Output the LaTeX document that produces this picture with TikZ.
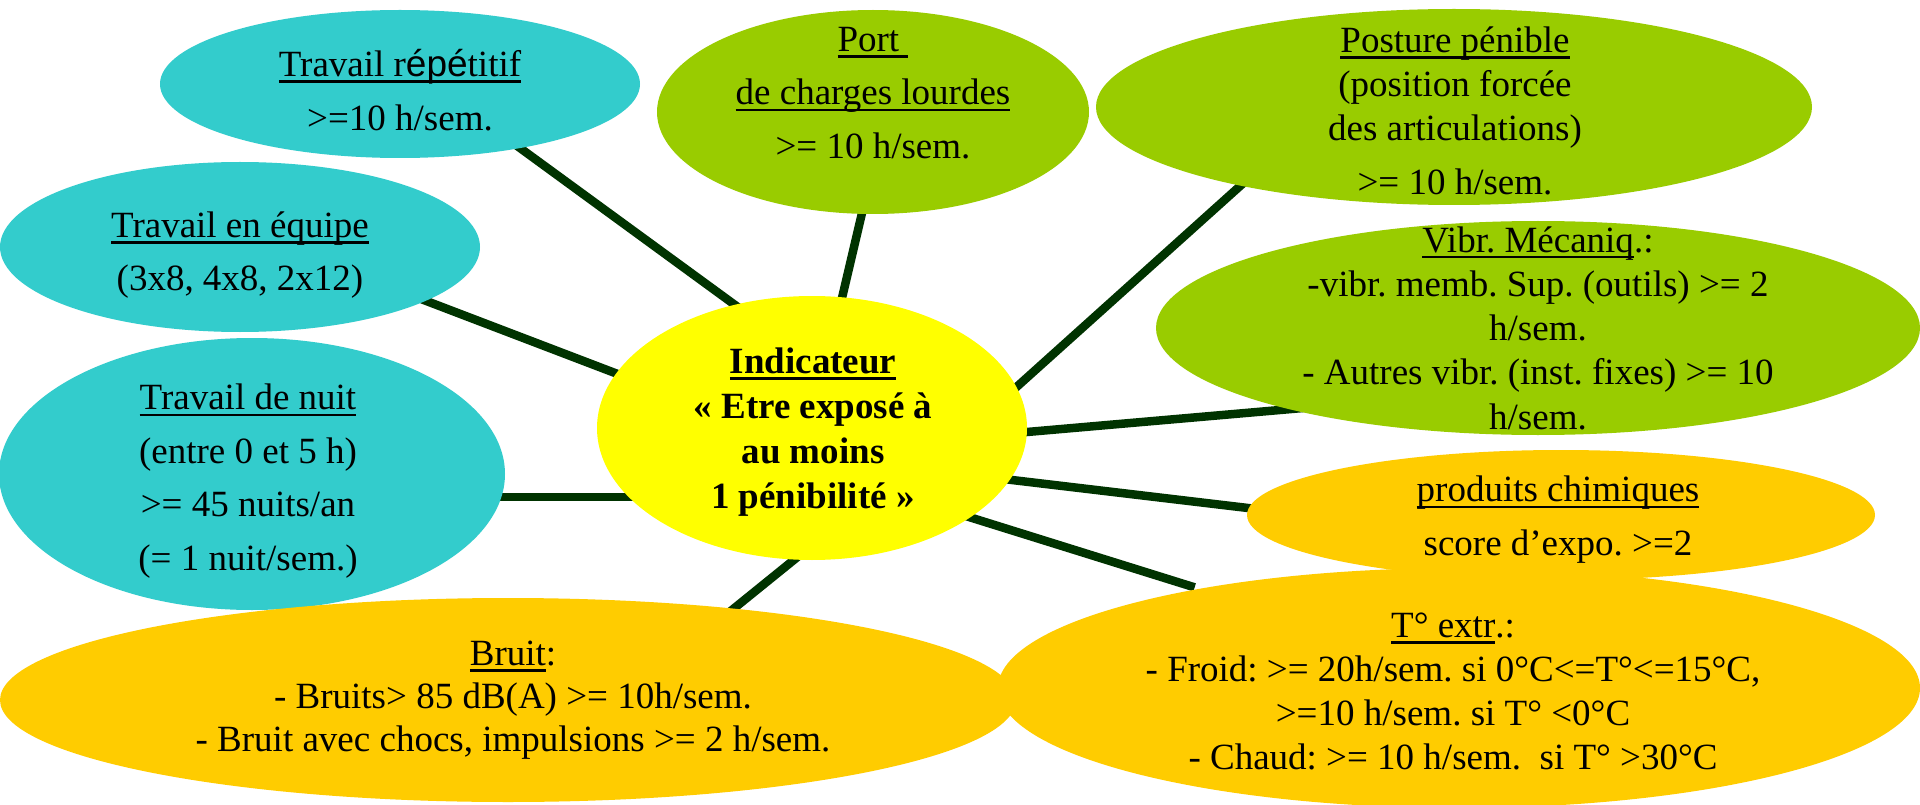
\documentclass[tikz,border=0pt]{standalone}
\usepackage{fontspec}
\setmainfont{Liberation Serif}
\newfontfamily\sansf{Liberation Sans}
\usetikzlibrary{shapes.geometric,backgrounds,calc}
\definecolor{cyanfill}{HTML}{33CCCC}
\definecolor{greenfill}{HTML}{99CC00}
\definecolor{yellowfill}{HTML}{FFFF00}
\definecolor{orangefill}{HTML}{FFCC00}
\definecolor{linkcol}{HTML}{003300}
\newsavebox\myulbox
\newcommand\myul[1]{\sbox\myulbox{#1}\rlap{\rule[-0.175em]{\wd\myulbox}{0.07em}}\usebox\myulbox}
\frenchspacing
\begin{document}
\begin{tikzpicture}[x=1pt,y=-1pt,
  bubble/.style={ellipse, draw=none, inner sep=0pt, outer sep=0pt},
  txt/.style={align=center, inner sep=0pt, font=\fontsize{37}{53.5}\selectfont},
  link/.style={draw=linkcol, line width=8.5pt, shorten <=-8pt, shorten >=-8pt}]
\path[use as bounding box] (0,0) rectangle (1920,805);
% bubbles
\node[bubble, fill=cyanfill, minimum width=480pt, minimum height=148pt] (rep) at (400,84) {};
\node[bubble, fill=greenfill, minimum width=432pt, minimum height=204pt] (port) at (873,112) {};
\node[bubble, fill=cyanfill, minimum width=480pt, minimum height=170pt] (equ) at (240,247) {};
\node[bubble, fill=cyanfill, minimum width=506pt, minimum height=272pt] (nuit) at (252,474) {};
\node[bubble, fill=greenfill, minimum width=716pt, minimum height=196pt] (post) at (1454,107) {};
\node[bubble, fill=greenfill, minimum width=764pt, minimum height=214pt] (vib) at (1538,328) {};
\node[bubble, fill=orangefill, minimum width=628pt, minimum height=130pt] (chim) at (1561,515) {};
\node[bubble, fill=orangefill, minimum width=1016pt, minimum height=204pt] (bruit) at (508,700) {};
\node[bubble, fill=orangefill, minimum width=922pt, minimum height=240pt] (temp) at (1459,688) {};
\node[bubble, fill=yellowfill, minimum width=430pt, minimum height=264pt] (ind) at (812,428) {};
% texts
\node[txt] (rep-t) at (400,90) {\myul{Travail r{\sansf épé}titif}\\>=10 h/sem.};
\node[txt] (port-t) at (873,93) {\myul{Port }\\\myul{de charges lourdes}\\>= 10 h/sem.};
\node[txt] (equ-t) at (240,255) {\myul{Travail en équipe}\\(3x8, 4x8, 2x12)};
\node[txt] (nuit-t) at (248,481) {\myul{Travail de nuit}\\(entre 0 et 5 h)\\>= 45 nuits/an\\(= 1 nuit/sem.)};
\node[txt, font=\fontsize{37}{45}\selectfont\bfseries] (ind-t) at (813,432) {\myul{Indicateur}\\« Etre exposé à\\au moins\\1 pénibilité »};
\node[txt, font=\fontsize{37}{43}\selectfont] (bruit-t) at (513,700) {\myul{Bruit}:\\- Bruits> 85 dB(A) >= 10h/sem.\\- Bruit avec chocs, impulsions >= 2 h/sem.};
\node[txt, font=\fontsize{37}{44}\selectfont] (post-t) at (1455,111) {\myul{Posture pénible}\\(position forcée\\des articulations)\\[10pt]>= 10 h/sem.};
\node[txt, font=\fontsize{37}{44.3}\selectfont] (vib-t) at (1538,328) {\myul{Vibr. Mécaniq}.:\\-vibr. memb. Sup. (outils) >= 2\\h/sem.\\- Autres vibr. (inst. fixes) >= 10\\h/sem.};
\node[txt, font=\fontsize{37}{54}\selectfont] (chim-t) at (1558,520) {\myul{produits chimiques}\\score d’expo. >=2};
\node[txt, font=\fontsize{37}{44}\selectfont] (temp-t) at (1453,691) {\myul{T° extr}.:\\- Froid: >= 20h/sem. si 0°C<=T°<=15°C,\\>=10 h/sem. si T° <0°C\\- Chaud: >= 10 h/sem.\ \ si T° >30°C};
% connectors
\begin{pgfonlayer}{background}
\fill[white] (0,0) rectangle (1920,805);
\draw[link] ($(rep)+(120,64)$) -- ($(ind)+(-77,-123)$);
\draw[link] ($(port)+(-11,101)$) -- ($(ind)+(30,-130)$);
\draw[link] ($(equ)+(189,55)$) -- ($(ind)+(-197,-55)$);
\draw[link] ($(nuit)+(250,23)$) -- ($(ind)+(-183,69)$);
\draw[link] ($(bruit)+(224,-90)$) -- ($(ind)+(-17,131)$);
\draw[link] ($(post)+(-215,80)$) -- ($(ind)+(209,-45)$);
\draw[link] ($(vib)+(-235,80)$) -- ($(ind)+(215,4)$);
\draw[link] ($(chim)+(-313,-7)$) -- ($(ind)+(200,52)$);
\draw[link] ($(temp)+(-272,-103)$) -- ($(ind)+(157,89)$);
\end{pgfonlayer}
\end{tikzpicture}
\end{document}
